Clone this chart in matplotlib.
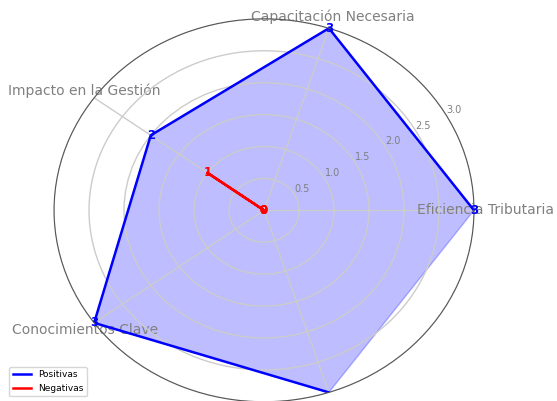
import matplotlib.pyplot as plt
import numpy as np

# datos
categorias = ['Eficiencia Tributaria', 'Capacitación Necesaria', 'Impacto en la Gestión',
              'Conocimientos Clave', 'Desafíos Identificados']
positivas = [3, 3, 2, 3, 3]
negativas = [0, 0, 1, 0, 0]
radios = [0.5, 1.0, 1.5, 2.0, 2.5, 3.0]

angulos = np.linspace(0, 2 * np.pi, len(categorias), endpoint=False)

fig = plt.figure(figsize=(5.57, 4.01), dpi=100)
ax = fig.add_axes([0.097, -0.002, 0.754, 0.955], projection='polar')
ax.set_aspect('auto')

# series
ax.plot(angulos, positivas, color='blue', linewidth=1.8, label='Positivas')
ax.fill(angulos, positivas, color='blue', alpha=0.26)
ax.plot(angulos, negativas, color='red', linewidth=1.8, label='Negativas')

# etiquetas de valores (sin la última categoría)
for a, v in zip(angulos[:-1], positivas[:-1]):
    ax.text(a, v, str(v), color='blue', fontsize=8.5, fontweight='bold',
            ha='center', va='center')
for a, v in zip(angulos[:-1], negativas[:-1]):
    ax.text(a, v, str(v), color='red', fontsize=8.5, fontweight='bold',
            ha='center', va='center')

ax.set_ylim(0, 3)
ax.set_yticks(radios)
ax.set_yticklabels([str(r) for r in radios], color='gray', fontsize=7)
ax.set_rlabel_position(30)
ax.set_xticks(angulos)
ax.set_xticklabels(categorias, color='gray', fontsize=10)
ax.tick_params(axis='x', pad=-2)
# la etiqueta inferior queda fuera del recorte
ax.get_xticklabels()[-1].set_va('top')
ax.grid(color='#cccccc', linewidth=1)
ax.spines['polar'].set_color('#555555')

fig.legend(loc='lower left', bbox_to_anchor=(0.008, 0.0), fontsize=6.5)

fig.savefig('out.png', dpi=100)
